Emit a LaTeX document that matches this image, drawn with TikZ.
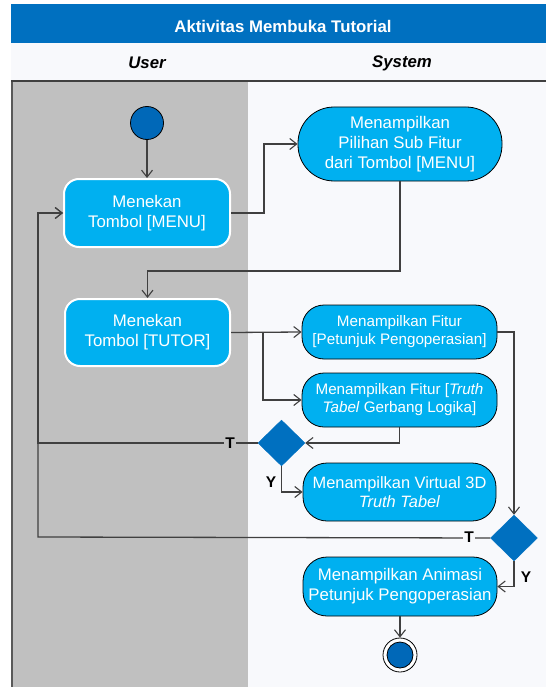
\documentclass[tikz,border=0pt]{standalone}
\usepackage{fontspec}
\setmainfont{Liberation Sans}
\usetikzlibrary{shapes.geometric,arrows.meta}
\definecolor{titleblue}{HTML}{0070C0}
\definecolor{boxblue}{HTML}{00B0F0}
\definecolor{lanegrey}{HTML}{C0C0C0}
\definecolor{lanelight}{HTML}{F8F9FC}
\definecolor{linegrey}{HTML}{404040}
\definecolor{startblue}{HTML}{0068B8}
\begin{document}
\begin{tikzpicture}[x=1pt,y=-1pt,
 userbox/.style={draw=white, line width=2pt, fill=boxblue, rounded corners=15pt, text=white, align=center, minimum width=166pt, minimum height=68pt, inner sep=0pt, font=\fontsize{16.8}{20}\selectfont},
 sysbox/.style={draw=black, line width=0.8pt, fill=boxblue, text=white, align=center, inner sep=0pt, font=\fontsize{16.8}{20}\selectfont},
 smalltext/.style={font=\fontsize{15.2}{18}\selectfont},
 decision/.style={diamond, fill=titleblue, draw=titleblue, inner sep=0pt, minimum width=47pt, minimum height=46pt},
 flow/.style={draw=linegrey, line width=1.3pt, -{Straight Barb[length=7pt,width=11pt,line width=1.1pt]}},
 guard/.style={font=\fontsize{15.5}{15.5}\selectfont\bfseries, inner sep=1.5pt, text=black},
 lanehead/.style={font=\fontsize{16.8}{20}\selectfont\bfseries\itshape, text=black},
 ball/.style={circle, fill=startblue, draw=black, line width=0.8pt, inner sep=0pt},
]
% background and swimlanes
\fill[white] (0,0) rectangle (546,687);
\useasboundingbox (0,0) rectangle (546,687);
\fill[titleblue] (11,4) rectangle (546,43);
\fill[lanelight] (11,43) rectangle (546,687);
\fill[lanegrey] (11,81) rectangle (248,687);
\draw[gray!70!black, line width=1.5pt] (11.75,81) -- (11.75,687);
\draw[linegrey, line width=1.2pt] (11,81) -- (546,81);
\node[text=white, font=\fontsize{16.8}{20}\selectfont\bfseries] (title) at (283,26) {Aktivitas Membuka Tutorial};
\node[lanehead] (user) at (147,63) {User};
\node[lanehead] (system) at (402,63) {System};

% nodes
\node[ball, minimum size=33pt] (start) at (147,123) {};
\node[userbox] (menu) at (147,213) {Menekan\\Tombol [MENU]};
\node[sysbox, minimum width=204pt, minimum height=74pt, rounded corners=36pt] (pilihan) at (400,144) {Menampilkan\\Pilihan Sub Fitur\\dari Tombol [MENU]};
\node[userbox, minimum width=165pt, minimum height=67pt] (tutor) at (147.5,332.5) {Menekan\\Tombol [TUTOR]};
\node[sysbox, smalltext, minimum width=195pt, minimum height=54pt, rounded corners=22pt] (petunjuk) at (399.5,332) {Menampilkan Fitur\\{[}Petunjuk Pengoperasian]};
\node[sysbox, smalltext, minimum width=195pt, minimum height=54pt, rounded corners=22pt] (truth) at (399.5,400) {Menampilkan Fitur [\textit{Truth}\\\textit{Tabel} Gerbang Logika]};
\node[decision] (d1) at (281.5,443) {};
\node[sysbox, minimum width=193pt, minimum height=58pt, rounded corners=24pt, font=\fontsize{16.4}{19}\selectfont] (virtual) at (399.5,492) {Menampilkan Virtual 3D\\\textit{Truth Tabel}};
\node[decision] (d2) at (514,538) {};
\node[sysbox, minimum width=194pt, minimum height=59pt, rounded corners=24pt] (animasi) at (400,586.5) {Menampilkan Animasi\\Petunjuk Pengoperasian};
\node[circle, draw=black, line width=0.8pt, fill=white, minimum size=34pt, inner sep=0pt] (end) at (400,655) {};
\node[ball, minimum size=26pt] (endcore) at (end.center) {};

% connectors
\coordinate (c1) at (264,213);
\coordinate (c2) at (400,271);
\coordinate (fork) at (263,332);
\coordinate (loop1) at (38,443);
\coordinate (loop2) at (38,537);
\draw[flow] (start) -- (menu);
\draw[flow] (menu.east) -- (c1) |- (pilihan.west);
\draw[flow] (pilihan.south) -- (c2) -| (tutor.north);
\draw[flow] (tutor.east) -- (petunjuk.west);
\draw[flow] (fork) |- (truth.west);
\draw[flow] (truth.south) |- (d1.east);
\draw[flow] (d1.west) -- (loop1) |- (menu.west);
\draw[flow] (d1.south) |- (virtual.west);
\draw[flow] (petunjuk.east) -| (d2.north);
\draw[flow] (d2.west) -- (loop2) |- (menu.west);
\draw[flow] (d2.south) |- (animasi.east);
\draw[flow] (animasi.south) -- (end.north);

% guards
\node[guard, fill=lanegrey] (t1) at (230,443) {T};
\node[guard, fill=lanelight] (y1) at (271,482) {Y};
\node[guard, fill=lanelight] (t2) at (469,537) {T};
\node[guard, fill=lanelight] (y2) at (526,577) {Y};
\end{tikzpicture}
\end{document}
